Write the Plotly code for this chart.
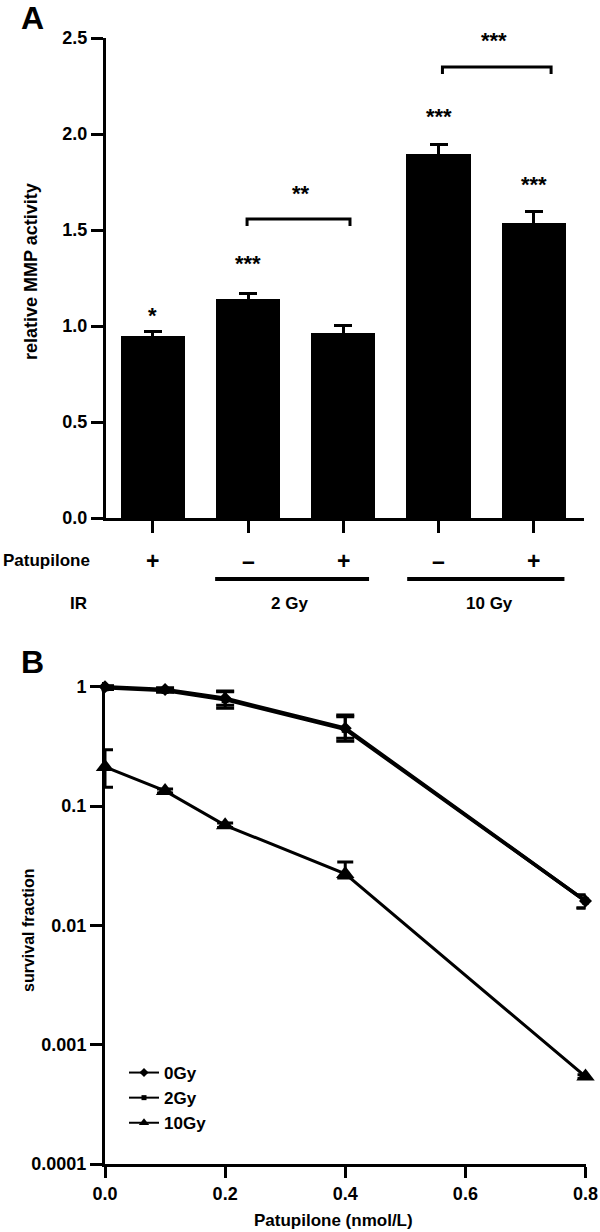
import plotly.graph_objects as go

# ---------------- Panel A data ----------------
groups = [0, 1, 2, 3, 4]
mmp_activity = [0.95, 1.14, 0.965, 1.895, 1.535]
mmp_err = [0.02, 0.03, 0.04, 0.05, 0.06]
patupilone_signs = ["+", "–", "+", "–", "+"]
bar_stars = ["*", "***", "", "***", "***"]
ir_labels = ["2 Gy", "10 Gy"]
a_yticks = [0.0, 0.5, 1.0, 1.5, 2.0, 2.5]

# ---------------- Panel B data ----------------
conc = [0.0, 0.1, 0.2, 0.4, 0.8]
sf_0gy = [1.0, 0.95, 0.80, 0.45, 0.016]
sf_0gy_hi = [0.02, 0.03, 0.12, 0.13, 0.002]
sf_0gy_lo = [0.02, 0.03, 0.10, 0.08, 0.002]
sf_2gy = [0.98, 0.93, 0.78, 0.44, 0.016]
sf_2gy_hi = [0.03, 0.03, 0.13, 0.12, 0.002]
sf_2gy_lo = [0.03, 0.03, 0.12, 0.09, 0.002]
sf_10gy = [0.213, 0.134, 0.069, 0.027, 0.00054]
sf_10gy_hi = [0.083, 0.005, 0.003, 0.007, 0.00002]
sf_10gy_lo = [0.069, 0.005, 0.003, 0.002, 0.00002]
series_names = ["0Gy", "2Gy", "10Gy"]
b_yticks = [1, 0.1, 0.01, 0.001, 0.0001]
b_yticktext = ["1", "0.1", "0.01", "0.001", "0.0001"]
b_xticks = [0.0, 0.2, 0.4, 0.6, 0.8]

W, H = 600, 1232
FONT = "Liberation Sans, Arial, sans-serif"


def py(px):
    return 1 - px / H


def px_x(px):
    return px / W


fig = go.Figure()

fig.add_trace(go.Bar(
    x=groups, y=mmp_activity, width=0.675,
    marker=dict(color="black", line=dict(width=0)),
    error_y=dict(type="data", array=mmp_err, visible=True,
                 color="black", thickness=3, width=9),
    xaxis="x", yaxis="y", showlegend=False,
))

# (values, err+, err-, symbol, marker size, line width, cap half-width, legend marker size)
series = [
    (sf_0gy, sf_0gy_hi, sf_0gy_lo, "diamond", 10, 3.5, 9, 7),
    (sf_2gy, sf_2gy_hi, sf_2gy_lo, "square", 7, 3.5, 9, 5),
    (sf_10gy, sf_10gy_hi, sf_10gy_lo, "triangle-up", 16, 3, 8, 9),
]
for name, (yv, hi, lo, sym, msize, lw, capw, legsize) in zip(series_names, series):
    fig.add_trace(go.Scatter(
        x=conc, y=yv, name=name, mode="lines+markers",
        line=dict(color="black", width=lw),
        marker=dict(symbol=sym, size=msize, color="black"),
        error_y=dict(type="data", symmetric=False, array=hi, arrayminus=lo,
                     color="black", thickness=3, width=capw),
        xaxis="x2", yaxis="y2", cliponaxis=False, showlegend=False,
    ))
# legend keys (no data points, only the key)
for name, (yv, hi, lo, sym, msize, lw, capw, legsize) in zip(series_names, series):
    fig.add_trace(go.Scatter(
        x=[None], y=[None], name="<b>%s</b>" % name, mode="lines+markers",
        line=dict(color="black", width=2),
        marker=dict(symbol=sym, size=legsize, color="black"),
        xaxis="x2", yaxis="y2", showlegend=True,
    ))

tickfont = dict(family=FONT, size=18, color="black", weight="bold")

fig.update_layout(
    template="none",
    width=W, height=H,
    margin=dict(l=0, r=0, t=0, b=0, autoexpand=False),
    paper_bgcolor="white", plot_bgcolor="white",
    font=dict(family=FONT, color="black"),
    xaxis=dict(
        domain=[px_x(106), px_x(583.5)], range=[-0.49, 4.52], automargin=False,
        showline=True, linewidth=3, linecolor="black",
        ticks="outside", ticklen=12, tickwidth=3, tickcolor="black",
        tickvals=groups, showticklabels=False, showgrid=False, zeroline=False,
        anchor="y",
    ),
    yaxis=dict(
        domain=[py(518), py(38)], range=[0, 2.5], automargin=False,
        showline=True, linewidth=3, linecolor="black",
        ticks="outside", ticklen=12, tickwidth=3, tickcolor="black",
        tickvals=a_yticks, tickformat=".1f", tickfont=tickfont,
        showgrid=False, zeroline=False, anchor="x",
    ),
    xaxis2=dict(
        domain=[px_x(105), px_x(585.5)], range=[0, 0.8], automargin=False,
        showline=True, linewidth=3, linecolor="black",
        ticks="outside", ticklen=11, tickwidth=3, tickcolor="black",
        tickvals=b_xticks, tickformat=".1f", tickfont=tickfont,
        showgrid=False, zeroline=False, anchor="y2",
    ),
    yaxis2=dict(
        domain=[py(1164), py(682)], type="log", range=[-4, 0.04], automargin=False,
        showline=True, linewidth=3, linecolor="black",
        ticks="outside", ticklen=12, tickwidth=3, tickcolor="black",
        tickvals=b_yticks, ticktext=b_yticktext, tickfont=tickfont,
        showgrid=False, zeroline=False, anchor="x2",
    ),
    legend=dict(
        x=px_x(124), y=py(1055), xanchor="left", yanchor="top",
        font=dict(family=FONT, size=17, color="black"),
        bgcolor="rgba(0,0,0,0)", itemsizing="trace", borderwidth=0,
    ),
    bargap=0,
)

ann = []


def add_text(text, x, y, size, xref="paper", yref="paper", angle=0, xanchor="center"):
    ann.append(dict(text=text, x=x, y=y, xref=xref, yref=yref, textangle=angle,
                    xanchor=xanchor, yanchor="middle", showarrow=False,
                    font=dict(size=size, family=FONT, color="black")))


add_text("<b>A</b>", px_x(32), py(18), 32)
add_text("<b>B</b>", px_x(32), py(662), 32)
add_text("<b>relative MMP activity</b>", px_x(31), py(272), 18, angle=-90)
add_text("<b>survival fraction</b>", px_x(28), py(930), 16, angle=-90)
add_text("<b>Patupilone (nmol/L)</b>", px_x(333), py(1220), 17)

star_y = [1.055, 1.326, None, 2.091, 1.737]
for g, s, sy in zip(groups, bar_stars, star_y):
    if s:
        add_text("<b>%s</b>" % s, g, sy, 22, xref="x", yref="y")
add_text("<b>**</b>", 1.553, 1.690, 22, xref="x", yref="y")
add_text("<b>***</b>", 3.578, 2.487, 22, xref="x", yref="y")

add_text("<b>Patupilone</b>", px_x(1), py(561), 17, xanchor="left")
for g, s in zip(groups, patupilone_signs):
    add_text("<b>%s</b>" % s, g, py(561), 23, xref="x")
add_text("<b>IR</b>", px_x(79), py(603), 17)
for xc, lab in zip([1.44, 3.53], ir_labels):
    add_text("<b>%s</b>" % lab, xc, py(603), 17, xref="x")

fig.update_layout(annotations=ann)

shapes = []
for x0, x1, yh, yl in [(0.99, 2.07, 1.557, 1.521), (3.04, 4.18, 2.349, 2.3125)]:
    shapes.append(dict(type="path", xref="x", yref="y",
                       path=f"M {x0},{yl} L {x0},{yh} L {x1},{yh} L {x1},{yl}",
                       line=dict(color="black", width=3)))
for x0, x1 in [(0.655, 2.27), (2.67, 4.32)]:
    shapes.append(dict(type="line", xref="x", yref="paper", x0=x0, x1=x1,
                       y0=py(579), y1=py(579), line=dict(color="black", width=4)))
fig.update_layout(shapes=shapes)

fig.write_html("out.html", config={"displayModeBar": False},
               post_script="document.body.style.margin='0';")
